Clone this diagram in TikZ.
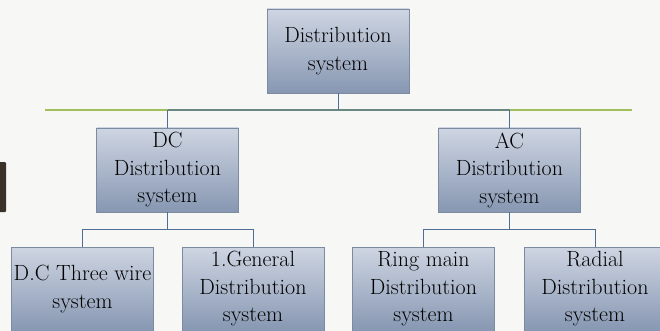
\documentclass[tikz,border=0pt]{standalone}
\usepackage{fontspec}
\definecolor{bgc}{HTML}{F7F7F6}
\definecolor{boxtop}{HTML}{CED5E2}
\definecolor{boxbot}{HTML}{8797B2}
\definecolor{boxline}{HTML}{7D8BA0}
\definecolor{conn}{HTML}{4F6E96}
\definecolor{grn}{HTML}{A3BE5C}
\definecolor{midl}{HTML}{6A8882}
\definecolor{blob}{HTML}{3A3129}
\tikzset{
  orgbox/.style={draw=boxline, line width=0.8pt, top color=boxtop, bottom color=boxbot,
    minimum width=142pt, minimum height=84pt, inner sep=0pt, align=center,
    font=\fontsize{22}{27.5}\selectfont},
  link/.style={draw=conn, line width=1pt},
}
\begin{document}
\begin{tikzpicture}[x=1pt,y=-1pt]
\useasboundingbox (0,0) rectangle (660,331);
\fill[bgc] (0,0) rectangle (660,331);
\fill[blob, rounded corners=1pt] (-3,162) rectangle (6,212);
% main horizontal line
\coordinate (gl) at (45,110);
\coordinate (gr) at (632,110);
\coordinate (jl) at (167.5,110);
\coordinate (jr) at (509.5,110);
\draw[grn, line width=1.6pt] (gl) -- (jl);
\draw[grn, line width=1.6pt] (jr) -- (gr);
\draw[midl, line width=1.6pt] (jl) -- (jr);
% nodes
\node[orgbox] (top) at (338,51) {Distribution\\system};
\node[orgbox] (dc) at (167.5,170) {DC\\Distribution\\system};
\node[orgbox] (ac) at (509.5,170) {AC\\Distribution\\system};
\node[orgbox] (c1) at (82.5,289) {D.C Three wire\\system};
\node[orgbox] (c2) at (253,289) {1.General\\Distribution\\system};
\node[orgbox] (c3) at (423.5,289) {Ring main\\Distribution\\system};
\node[orgbox] (c4) at (595,289) {Radial\\Distribution\\system};
% connectors
\coordinate (tj) at (338,110);
\draw[link] (top.south) -- (tj);
\draw[link] (jl) -- (dc.north);
\draw[link] (jr) -- (ac.north);
\coordinate (dj) at (167.5,229);
\coordinate (aj) at (509.5,229);
\draw[link] (dc.south) -- (dj);
\draw[link] (dj) -| (c1.north);
\draw[link] (dj) -| (c2.north);
\draw[link] (ac.south) -- (aj);
\draw[link] (aj) -| (c3.north);
\draw[link] (aj) -| (c4.north);
\end{tikzpicture}
\end{document}
